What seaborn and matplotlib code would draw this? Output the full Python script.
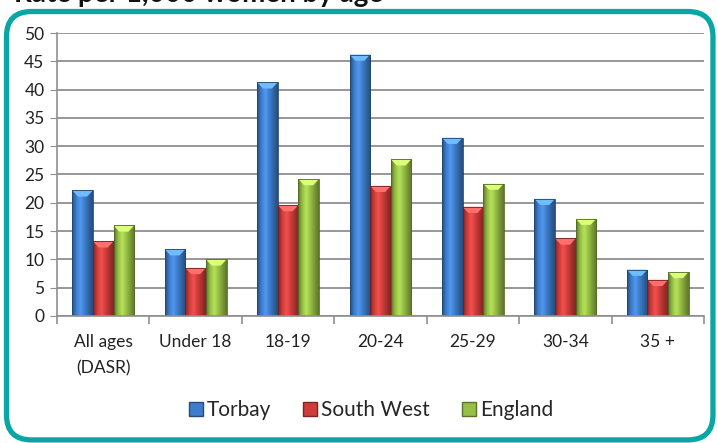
import numpy as np
import pandas as pd
import matplotlib
matplotlib.use("Agg")
import matplotlib.pyplot as plt
import seaborn as sns
from matplotlib.colors import LinearSegmentedColormap, to_rgb
from matplotlib.patches import FancyBboxPatch, Polygon

# ------------------ DATA ------------------
age_groups = ["All ages\n(DASR)", "Under 18", "18-19", "20-24", "25-29", "30-34", "35 +"]
torbay = [22.2, 11.8, 41.3, 46.2, 31.5, 20.7, 8.2]
south_west = [13.2, 8.5, 19.6, 23.0, 19.3, 13.7, 6.4]
england = [16.0, 10.0, 24.2, 27.7, 23.4, 17.2, 7.8]
areas = ["Torbay", "South West", "England"]

df = pd.DataFrame({
    "age": age_groups * 3,
    "rate": torbay + south_west + england,
    "area": np.repeat(areas, len(age_groups)),
})

colors = {"Torbay": "#3d7dcc", "South West": "#cf3d3a", "England": "#97bf45"}

# ------------------ STYLE ------------------
sns.set_style("white")
plt.rcParams["font.family"] = ["Lato", "DejaVu Sans"]

fig = plt.figure(figsize=(7.18, 4.43), dpi=100)
ax = fig.add_axes([0.0794, 0.2867, 0.9011, 0.6388])

sns.barplot(data=df, x="age", y="rate", hue="area", palette=colors,
            width=0.67, gap=0, saturation=1, ax=ax, legend=True,
            edgecolor="none")

# ------------------ CYLINDER SHADING ------------------
def shade_cmap(c):
    r = np.array(to_rgb(c))
    dark = r * 0.62
    light = np.clip(r * 1.12 + 0.05, 0, 1)
    return LinearSegmentedColormap.from_list(
        "s", [dark, r, light, r, r * 0.8, dark])

grad = np.linspace(0, 1, 64).reshape(1, -1)
for patch in list(ax.patches):
    h = patch.get_height()
    if h <= 0:
        continue
    x0 = patch.get_x()
    w = patch.get_width()
    fc = patch.get_facecolor()
    img = ax.imshow(grad, cmap=shade_cmap(fc[:3]), extent=[x0, x0 + w, 0, h],
                    aspect="auto", zorder=patch.get_zorder() + 0.1,
                    interpolation="bicubic")
    img.set_clip_path(patch)
    # light bevel on top of each bar
    r = np.array(fc[:3])
    top = Polygon([[x0, h], [x0 + w, h], [x0 + w * 0.72, h - 1.1],
                   [x0 + w * 0.28, h - 1.1]], closed=True,
                  facecolor=np.clip(r * 1.2 + 0.15, 0, 1),
                  edgecolor="none", zorder=patch.get_zorder() + 0.2)
    ax.add_patch(top)
    outline = plt.Rectangle((x0, 0), w, h, fill=False,
                            edgecolor=r * 0.55, linewidth=0.6,
                            zorder=patch.get_zorder() + 0.3)
    ax.add_patch(outline)

ax.set_xlim(-0.5, len(age_groups) - 0.5)
ax.set_ylim(0, 50)

# ------------------ AXES ------------------
ax.set_yticks(range(0, 51, 5))
ax.yaxis.grid(True, color="#8f8f8f", linewidth=1.3)
ax.set_axisbelow(True)
ax.set_xlabel("")
ax.set_ylabel("")
for s in ["top", "right"]:
    ax.spines[s].set_visible(False)
ax.spines["left"].set_color("#8f8f8f")
ax.spines["bottom"].set_color("#8f8f8f")
ax.spines["left"].set_linewidth(1.2)
ax.spines["bottom"].set_linewidth(1.2)

ax.tick_params(axis="y", length=5, color="#8f8f8f", labelsize=12.5,
               labelcolor="#222222", left=True, pad=4)
ax.tick_params(axis="x", which="major", length=0, labelsize=12.5,
               labelcolor="#222222", pad=13)
for lbl in ax.get_xticklabels():
    lbl.set_linespacing(1.75)
ax.set_xticks(np.arange(-0.5, len(age_groups)), minor=True)
ax.tick_params(axis="x", which="minor", length=6, color="#8f8f8f",
               bottom=True, width=1.2)

# ------------------ LEGEND ------------------
ax.get_legend().remove()
handles = [plt.Line2D([], [], marker="s", linestyle="none", markersize=10,
                      markerfacecolor=colors[a], markeredgecolor=np.array(to_rgb(colors[a])) * 0.6)
           for a in areas]
fig.legend(handles, areas, loc="center", bbox_to_anchor=(0.515, 0.074),
           ncol=3, frameon=False, fontsize=15, handletextpad=0.1,
           columnspacing=1.4, handlelength=0.9)

# ------------------ FRAME AND CUT-OFF TITLE ------------------
frame = FancyBboxPatch((0.009, 0.007), 0.984, 0.967,
                       boxstyle="round,pad=0,rounding_size=0.035",
                       transform=fig.transFigure, facecolor="none",
                       edgecolor="#0aa5a5", linewidth=3.8, mutation_aspect=718 / 443)
fig.patches.append(frame)
fig.text(0.02, 0.9966, "Rate per 1,000 women by age", fontsize=20,
         fontweight="bold", color="#111111", va="baseline", ha="left")

fig.savefig("out.png", dpi=100)
